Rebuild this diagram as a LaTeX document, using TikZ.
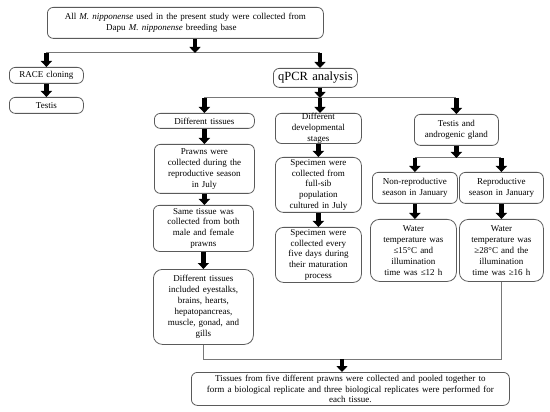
\documentclass[tikz,border=0pt]{standalone}
\usepackage{fontspec}
\setmainfont{Liberation Serif}[WordSpace=1.4]
\usepackage{tikz}
\usetikzlibrary{arrows.meta, positioning, calc}
\usepackage{xcolor}
\definecolor{boxgray}{RGB}{90,90,90}
\definecolor{linegray}{RGB}{120,120,120}
\newcommand{\boxfont}{\fontsize{9pt}{10.9pt}\selectfont}
\newcommand{\Mn}{\textit{M. nipponense}}

\begin{document}
\begin{tikzpicture}[
    x=1pt, y=-1pt,
    box/.style={rectangle, draw=boxgray, line width=0.8pt, rounded corners=6pt,
                anchor=north west, align=center, inner xsep=2pt, inner ysep=0pt, font=\boxfont},
    blk/.style={-{Triangle[width=11pt,length=6pt]}, line width=4.5pt, black},
    link/.style={draw=linegray, line width=1pt},
]
    \useasboundingbox (0,0) rectangle (550,412);

    % sampling source and first split
    \node[box, minimum width=276pt, minimum height=31pt] (src) at (47,7)
        {All \Mn{} used in the present study were collected from\\Dapu \Mn{} breeding base\hspace*{28pt}};
    \node[box, minimum width=74pt, minimum height=16pt] (race) at (9,67) {RACE cloning};
    \node[box, minimum width=74pt, minimum height=16pt] (tes) at (9,97) {Testis};
    \node[box, minimum width=84pt, minimum height=19pt, font=\fontsize{12.5pt}{14pt}\selectfont] (qpcr) at (273,68) {qPCR analysis};

    % qPCR branches
    \node[box, minimum width=100pt, minimum height=15pt] (tis) at (154,113) {Different tissues};
    \node[box, minimum width=86pt, minimum height=30pt] (dev) at (275,113) {Different\\developmental\\stages};
    \node[box, minimum width=84pt, minimum height=31pt] (tag) at (414,114) {Testis and\\androgenic gland};

    \node[box, minimum width=100pt, minimum height=49pt] (prw) at (154,144)
        {Prawns were\\collected during the\\reproductive season\\in July};
    \node[box, minimum width=100pt, minimum height=46pt] (same) at (153,205)
        {Same tissue was\\collected from both\\male and female\\prawns};
    \node[box, minimum width=100pt, minimum height=75pt, rounded corners=9pt] (incl) at (153,269)
        {Different tissues\\included eyestalks,\\brains, hearts,\\hepatopancreas,\\muscle, gonad, and\\gills};

    \node[box, minimum width=86pt, minimum height=55pt, rounded corners=8pt] (spa) at (275,157)
        {Specimen were\\collected from\\full-sib\\population\\cultured in July};
    \node[box, minimum width=86pt, minimum height=55pt, rounded corners=8pt] (spb) at (275,227)
        {Specimen were\\collected every\\five days during\\their maturation\\process};

    \node[box, minimum width=85pt, minimum height=31pt] (nrep) at (372,172) {Non-reproductive\\season in January};
    \node[box, minimum width=84pt, minimum height=31pt] (rep) at (459,172) {Reproductive\\season in January};
    \node[box, minimum width=86pt, minimum height=62pt, rounded corners=9pt] (wa) at (370,219)
        {Water\\temperature was\\≤15°C and\\illumination\\time was ≤12 h};
    \node[box, minimum width=84pt, minimum height=62pt, rounded corners=9pt] (wb) at (459,219)
        {Water\\temperature was\\≥28°C and the\\illumination\\time was ≥16 h};

    \node[box, minimum width=318pt, minimum height=33pt] (pool) at (191,372)
        {Tissues from five different prawns were collected and pooled together to\\form a biological replicate and three biological replicates were performed for\\each tissue.};

    % junctions
    \coordinate (j1) at (195,53);
    \coordinate (j2) at (320,98);
    \coordinate (j3) at (457,158);
    \coordinate (j4) at (342,359);

    \draw[link] (race.north |- j1) -- (j2 |- j1);
    \draw[link] (tis.north |- j2) -- (tag.north |- j2);
    \draw[link] (nrep.north |- j3) -- (rep.north |- j3);
    \draw[link] (incl.south) |- (wb.south |- j4) -- (wb.south);

    \draw[blk] (src.south -| j1) -- (j1);
    \draw[blk] (race.north |- j1) -- (race.north);
    \draw[blk] (j2 |- j1) -- (j2 |- qpcr.north);
    \draw[blk] (race.south) -- (tes.north);
    \draw[blk] (qpcr.south -| j2) -- (j2);
    \draw[blk] (tis.north |- j2) -- (tis.north);
    \draw[blk] (j2) -- (j2 |- dev.north);
    \draw[blk] (tag.north |- j2) -- (tag.north);
    \draw[blk] (tis.south) -- (tis.south |- prw.north);
    \draw[blk] (prw.south) -- (prw.south |- same.north);
    \draw[blk] (same.south) -- (same.south |- incl.north);
    \draw[blk] (dev.south) -- (dev.south |- spa.north);
    \draw[blk] (spa.south) -- (spa.south |- spb.north);
    \draw[blk] (tag.south) -- (tag.south |- j3);
    \draw[blk] (nrep.north |- j3) -- (nrep.north);
    \draw[blk] (rep.north |- j3) -- (rep.north);
    \draw[blk] (nrep.south) -- (nrep.south |- wa.north);
    \draw[blk] (rep.south) -- (rep.south |- wb.north);
    \draw[blk] (j4) -- (j4 |- pool.north);
\end{tikzpicture}
\end{document}
